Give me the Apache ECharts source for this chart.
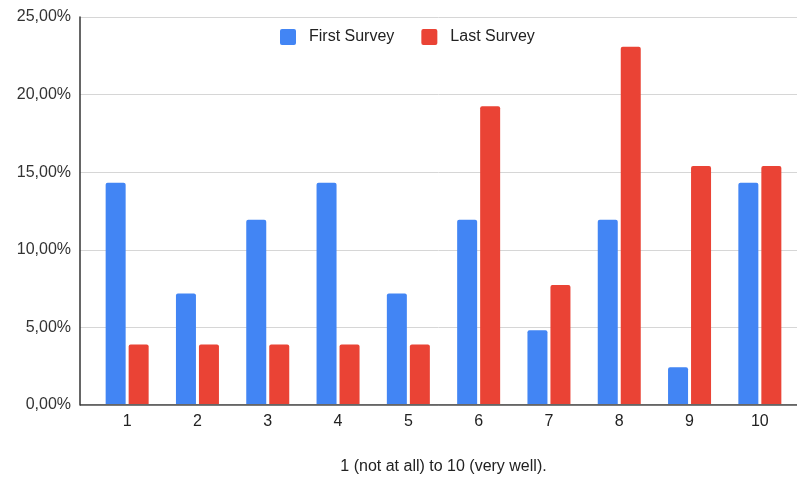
<!DOCTYPE html>
<html>
<head>
<meta charset="utf-8">
<script src="https://cdn.jsdelivr.net/npm/echarts@6/dist/echarts.min.js"></script>
<style>
  html, body { margin: 0; padding: 0; background: #fff; }
  #chart { width: 797px; height: 480px; }
</style>
</head>
<body>
<div id="chart"></div>
<script>
// Ratings 1..10 and the share of answers in each survey (%)
const categories = ['1', '2', '3', '4', '5', '6', '7', '8', '9', '10'];
const firstSurvey = [14.29, 7.14, 11.90, 14.29, 7.14, 11.90, 4.76, 11.90, 2.38, 14.29];
const lastSurvey = [3.85, 3.85, 3.85, 3.85, 3.85, 19.23, 7.69, 23.08, 15.38, 15.38];
const yTicks = [0, 5, 10, 15, 20, 25];

const fontFamily = '"Liberation Sans", Arial, sans-serif';
const fmt = v => v.toFixed(2).replace('.', ',') + '%';

const chart = echarts.init(document.getElementById('chart'), null, { renderer: 'canvas' });

chart.setOption({
  animation: false,
  textStyle: { fontFamily: fontFamily },
  legend: {
    data: ['First Survey', 'Last Survey'],
    left: 275,
    top: 24,
    itemWidth: 16,
    itemHeight: 16,
    itemGap: 27,
    icon: 'path://M2,0 H14 Q16,0 16,2 V14 Q16,16 14,16 H2 Q0,16 0,14 V2 Q0,0 2,0 Z',
    textStyle: { fontSize: 16, color: '#222', fontFamily: fontFamily, padding: [0, 0, 0, 8] }
  },
  grid: [
    // frame grid: y axis, gridlines
    { left: 80, right: 0, top: 17, bottom: 75 },
    // bar grid: inset so the first band starts a little right of the axis
    { left: 92, right: 2, top: 17, bottom: 75 }
  ],
  xAxis: [
    { gridIndex: 0, type: 'value', min: 0, max: 1, show: false },
    {
      gridIndex: 1,
      type: 'category',
      data: categories,
      axisLine: { show: false },
      axisTick: { show: false },
      axisLabel: { fontSize: 16, color: '#222', margin: 10, fontFamily: fontFamily },
      name: '1 (not at all) to 10 (very well).',
      nameLocation: 'middle',
      nameGap: 55,
      nameTextStyle: { fontSize: 16, color: '#222', fontFamily: fontFamily }
    }
  ],
  yAxis: [
    {
      gridIndex: 0,
      type: 'value',
      min: yTicks[0],
      max: yTicks[yTicks.length - 1],
      interval: 5,
      axisLine: { show: true, lineStyle: { color: '#333', width: 1.5 } },
      axisTick: { show: false },
      axisLabel: { fontSize: 16, color: '#333', margin: 9, formatter: fmt, fontFamily: fontFamily },
      splitLine: { show: true, lineStyle: { color: '#d6d6d6', width: 1 } }
    },
    {
      gridIndex: 1,
      type: 'value',
      min: yTicks[0],
      max: yTicks[yTicks.length - 1],
      show: false,
      splitLine: { show: false }
    }
  ],
  series: [
    {
      // x axis base line across the full frame
      type: 'line',
      xAxisIndex: 0,
      yAxisIndex: 0,
      data: [[0, 0], [1, 0]],
      symbol: 'none',
      lineStyle: { color: '#333', width: 1.5 },
      silent: true,
      z: 5,
      legendHoverLink: false,
      tooltip: { show: false }
    },
    {
      name: 'First Survey',
      type: 'bar',
      xAxisIndex: 1,
      yAxisIndex: 1,
      data: firstSurvey,
      barWidth: 20,
      barGap: '15%',
      itemStyle: { color: '#4285F4', borderRadius: [2, 2, 0, 0] }
    },
    {
      name: 'Last Survey',
      type: 'bar',
      xAxisIndex: 1,
      yAxisIndex: 1,
      data: lastSurvey,
      barWidth: 20,
      barGap: '15%',
      itemStyle: { color: '#EA4335', borderRadius: [2, 2, 0, 0] }
    }
  ]
});
</script>
</body>
</html>
